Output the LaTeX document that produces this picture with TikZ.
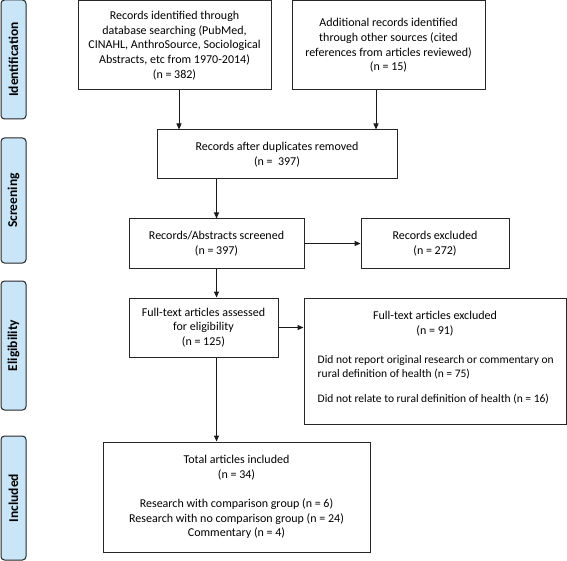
\documentclass[tikz,border=0pt]{standalone}
\usepackage{fontspec}
\setmainfont{Carlito}
\usetikzlibrary{arrows.meta}
\definecolor{edge}{HTML}{262626}
\definecolor{phase}{HTML}{C9E6F8}
\tikzset{
  box/.style={draw=edge, line width=1pt, fill=white, align=center, inner sep=2pt,
    font=\fontsize{12}{14.7}\selectfont},
  txt/.style={align=left, inner sep=0pt, font=\fontsize{12}{14.7}\selectfont},
  phasebox/.style={draw=edge, line width=1pt, fill=phase, rounded corners=3.5pt,
    rotate=90, minimum height=25, inner sep=1pt, font=\bfseries\fontsize{13.5}{15}\selectfont},
  arr/.style={draw=black!90, line width=1pt, -{Triangle[length=6pt,width=5pt]}},
}

\begin{document}
\begin{tikzpicture}[x=1pt,y=1pt]
  \useasboundingbox (0,0) rectangle (567,-561);

  % phase labels on the left
  \node[phasebox, minimum width=119] (idphase)  at (13.5,-59.5) {Identification};
  \node[phasebox, minimum width=125] (scphase)  at (13.5,-200.5) {Screening};
  \node[phasebox, minimum width=129] (elphase)  at (13.5,-345.5) {Eligibility};
  \node[phasebox, minimum width=124] (inphase)  at (13.5,-498) {Included};

  % boxes
  \node[box, minimum width=193, minimum height=89] (idrec) at (174.5,-45.5)
    {Records identified through\\database searching (PubMed,\\CINAHL, AnthroSource, Sociological\\Abstracts, etc from 1970-2014)\\(n = 382)};
  \node[box, minimum width=193, minimum height=89] (other) at (388.5,-45.5)
    {Additional records identified\\through other sources (cited\\references from articles reviewed)\\(n = 15)};
  \node[box, minimum width=240, minimum height=49] (dup) at (277,-154.5)
    {Records after duplicates removed\\(n = \ 397)};
  \node[box, minimum width=175, minimum height=49] (screen) at (216.5,-243.5)
    {Records/Abstracts screened\\(n = 397)};
  \node[box, minimum width=148, minimum height=49] (excl) at (435,-243.5)
    {Records excluded\\(n = 272)};
  \node[box, minimum width=149, minimum height=59] (full) at (203.5,-327.5)
    {Full-text articles assessed\\for eligibility\\(n = 125)};
  \node[box, minimum width=262, minimum height=126] (fullexcl) at (435,-361) {};
  \node[txt, align=center] (fulltitle) at (435,-324)
    {Full-text articles excluded\\(n = 91)};
  \node[txt, anchor=north west, font=\fontsize{11.5}{14.5}\selectfont] (fullwhy) at (317.5,-355)
    {Did not report original research or commentary on\\rural definition of health (n = 75)\\[10.5pt]Did not relate to rural definition of health (n = 16)};
  \node[box, minimum width=267, minimum height=110] (incl) at (236.5,-497)
    {Total articles included\\(n = 34)\\[14.7pt]Research with comparison group (n = 6)\\Research with no comparison group (n = 24)\\Commentary (n = 4)};

  % arrows
  \draw[arr] ([xshift=4.5]idrec.south) -- ([xshift=4.5]idrec.south |- dup.north);
  \draw[arr] ([xshift=-12.5]other.south) -- ([xshift=-12.5]other.south |- dup.north);
  \draw[arr] (screen.north |- dup.south) -- (screen.north);
  \draw[arr] (screen.east) -- (excl.west);
  \draw[arr] (screen.south) -- (screen.south |- full.north);
  \draw[arr] (full.east) -- (full.east -| fullexcl.west);
  \draw[arr] (screen.south |- full.south) -- (screen.south |- incl.north);
\end{tikzpicture}
\end{document}
